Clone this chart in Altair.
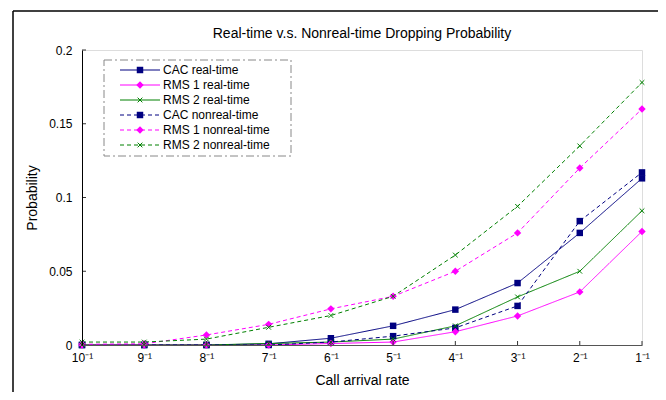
import altair as alt
import pandas as pd

categories = ["10⁻¹", "9⁻¹", "8⁻¹", "7⁻¹", "6⁻¹", "5⁻¹", "4⁻¹", "3⁻¹", "2⁻¹", "1⁻¹"]
series_names = ["CAC real-time", "RMS 1 real-time", "RMS 2 real-time",
                "CAC nonreal-time", "RMS 1 nonreal-time", "RMS 2 nonreal-time"]
cac_real = [0.0, 0.0, 0.0, 0.0008, 0.0046, 0.013, 0.024, 0.042, 0.076, 0.113]
rms1_real = [0.0, 0.0, 0.0, 0.0, 0.001, 0.002, 0.009, 0.0197, 0.036, 0.077]
rms2_real = [0.0, 0.0, 0.0, 0.001, 0.002, 0.004, 0.013, 0.0326, 0.050, 0.091]
cac_nonreal = [0.0, 0.0, 0.0, 0.0, 0.002, 0.006, 0.0116, 0.0265, 0.084, 0.117]
rms1_nonreal = [0.0005, 0.0008, 0.0068, 0.014, 0.0245, 0.033, 0.050, 0.076, 0.120, 0.160]
rms2_nonreal = [0.002, 0.002, 0.004, 0.012, 0.020, 0.033, 0.061, 0.094, 0.135, 0.178]
y_ticks = [0, 0.05, 0.1, 0.15, 0.2]
chart_title = ["Real-time v.s. Nonreal-time Dropping Probability"]

series_values = [cac_real, rms1_real, rms2_real, cac_nonreal, rms1_nonreal, rms2_nonreal]
colors = ["#000080", "#ff00ff", "#008000", "#000080", "#ff00ff", "#008000"]
dashes = [[1, 0], [1, 0], [1, 0], [4, 3], [4, 3], [4, 3]]
markers = ["square", "diamond", "x", "square", "diamond", "x"]

rows = []
for name, vals, mk in zip(series_names, series_values, markers):
    for c, v in zip(categories, vals):
        rows.append({"cat": c, "series": name, "value": v, "marker": mk})
df = pd.DataFrame(rows)

FONT = "Liberation Sans"
W, H = 560, 295

xscale = alt.Scale(type="point", domain=categories, padding=0)
yscale = alt.Scale(domain=[0, 0.2], nice=False, zero=True)
cscale = alt.Scale(domain=series_names, range=colors)
dscale = alt.Scale(domain=series_names, range=dashes)
X_PATH = "M-1,-1L1,1M-1,1L1,-1"

x_enc = alt.X("cat:N", scale=xscale, title="Call arrival rate",
              axis=alt.Axis(labelAngle=0, ticks=False, labelPadding=7, titlePadding=10,
                            domainColor="#555555", labelFontSize=12, titleFontSize=14,
                            titleFontWeight="normal", zindex=2))
y_enc = alt.Y("value:Q", scale=yscale, title="Probability",
              axis=alt.Axis(values=y_ticks, format="~g", ticks=False, grid=False,
                            labelPadding=10, titlePadding=9, domainColor="#000000",
                            labelFontSize=12, titleFontSize=14, titleFontWeight="normal",
                            zindex=2))

# outer frame (decoration): only its left and top edges fall inside the picture
one = pd.DataFrame({"a": [0]})
frame_left = alt.Chart(one).mark_rule(color="black", strokeWidth=1.5).encode(
    x=alt.value(-69), y=alt.value(-39), y2=alt.value(345))
frame_top = alt.Chart(one).mark_rule(color="black", strokeWidth=1.5).encode(
    y=alt.value(-39), x=alt.value(-69), x2=alt.value(580))

title_mark = alt.Chart(pd.DataFrame({"t": chart_title})).mark_text(
    font=FONT, fontSize=14, color="black", align="center", baseline="middle"
).encode(x=alt.value(W / 2), y=alt.value(-16), text="t:N")

lines = alt.Chart(df).mark_line(strokeWidth=1).encode(
    x=x_enc, y=y_enc,
    color=alt.Color("series:N", scale=cscale, legend=None),
    strokeDash=alt.StrokeDash("series:N", scale=dscale, legend=None),
    detail="series:N",
)

sq = alt.Chart(df).transform_filter(alt.datum.marker == "square").mark_point(
    shape="square", filled=True, size=42, opacity=1
).encode(x="cat:N", y="value:Q", color=alt.Color("series:N", scale=cscale, legend=None))

dm = alt.Chart(df).transform_filter(alt.datum.marker == "diamond").mark_point(
    shape="diamond", filled=True, size=55, opacity=1
).encode(x="cat:N", y="value:Q", color=alt.Color("series:N", scale=cscale, legend=None))

xs = alt.Chart(df).transform_filter(alt.datum.marker == "x").mark_point(
    shape=X_PATH, filled=False, size=22, strokeWidth=1, opacity=1
).encode(x="cat:N", y="value:Q", color=alt.Color("series:N", scale=cscale, legend=None))

# inward ticks
xt = alt.Chart(pd.DataFrame({"cat": categories})).mark_rule(color="#333333").encode(
    x="cat:N", y=alt.value(H), y2=alt.value(H - 4))
yt = alt.Chart(pd.DataFrame({"value": y_ticks})).mark_rule(color="#333333").encode(
    y="value:Q", x=alt.value(0), x2=alt.value(4))

# legend
leg_layers = [alt.Chart(one).mark_rect(
    fill="white", stroke="#888888", strokeWidth=1, strokeDash=[8, 3, 2, 3]
).encode(x=alt.value(22), x2=alt.value(209), y=alt.value(10), y2=alt.value(106))]
for i, (name, col, dsh, mk) in enumerate(zip(series_names, colors, dashes, markers)):
    yy = 20 + 15 * i
    d = pd.DataFrame({"name": [name]})
    leg_layers.append(alt.Chart(d).mark_rule(color=col, strokeWidth=1, strokeDash=dsh).encode(
        x=alt.value(38), x2=alt.value(78), y=alt.value(yy)))
    if mk == "x":
        pm = alt.Chart(d).mark_point(shape=X_PATH, filled=False, size=22, strokeWidth=1,
                                     color=col, opacity=1)
    else:
        pm = alt.Chart(d).mark_point(shape=mk, filled=True, size=42 if mk == "square" else 55,
                                     color=col, opacity=1)
    leg_layers.append(pm.encode(x=alt.value(58), y=alt.value(yy)))
    leg_layers.append(alt.Chart(d).mark_text(align="left", baseline="middle", font=FONT,
                                             fontSize=12, color="black").encode(
        x=alt.value(81), y=alt.value(yy), text="name:N"))

chart = alt.layer(frame_left, frame_top, title_mark, lines, sq, dm, xs, xt, yt,
                  *leg_layers).properties(
    width=W, height=H,
    autosize=alt.AutoSizeParams(type="none"),
    padding={"left": 74, "top": 42, "right": 16, "bottom": 47},
).configure_view(stroke="#888888", strokeWidth=1).configure_axis(
    labelFont=FONT, titleFont=FONT, labelColor="black", titleColor="black",
    titleFontWeight="normal"
).configure(background="white")

chart.save("out.html", embed_options={"renderer": "svg", "actions": False})
